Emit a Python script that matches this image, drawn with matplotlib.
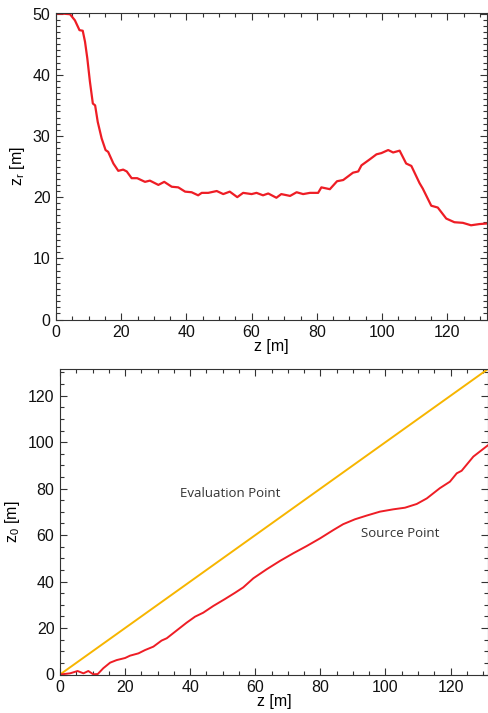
import matplotlib
matplotlib.use("Agg")
import matplotlib.pyplot as plt
from matplotlib.ticker import MultipleLocator

# top panel: z_r(z)
z_top = [0, 2, 4.3, 5.8, 7.2, 8.2, 8.9, 9.6, 10.4, 11.3, 12.0, 12.8, 14.0, 15.2,
         16.0, 17.6, 19.1, 20.6, 21.7, 23.2, 24.9, 27.3, 28.8, 31.4, 33.2, 35.5,
         37.5, 39.6, 41.6, 43.6, 44.7, 46.7, 49.3, 51.3, 53.3, 55.6, 57.4, 60.0,
         61.5, 63.5, 65.1, 67.6, 69.1, 71.8, 73.8, 75.8, 77.9, 80.4, 81.4, 84.0,
         86.2, 88.1, 91.1, 92.7, 93.7, 96.3, 98.3, 99.8, 101.9, 103.4, 105.4,
         107.4, 109.0, 111.5, 112.5, 115.1, 117.1, 119.7, 122.2, 124.8, 127.3,
         129.9, 132.4]
zr = [50.0, 50.0, 49.9, 48.9, 47.3, 47.2, 45.4, 42.7, 38.9, 35.3, 35.0, 32.3,
      29.6, 27.7, 27.4, 25.5, 24.3, 24.5, 24.2, 23.1, 23.1, 22.5, 22.7, 22.0,
      22.5, 21.7, 21.6, 20.9, 20.8, 20.3, 20.7, 20.7, 21.0, 20.5, 20.9, 20.0,
      20.7, 20.5, 20.7, 20.3, 20.6, 19.9, 20.5, 20.2, 20.8, 20.5, 20.7, 20.7,
      21.6, 21.3, 22.6, 22.8, 24.0, 24.2, 25.2, 26.2, 27.0, 27.2, 27.7, 27.3,
      27.6, 25.5, 25.1, 22.3, 21.4, 18.6, 18.3, 16.5, 15.9, 15.8, 15.4, 15.6,
      15.7]

# bottom panel: source point z_0(z) and evaluation point
z_src = [0, 3.1, 5.4, 7.2, 8.7, 10.2, 11.6, 13.3, 15.4, 17.4, 20.0, 21.5, 24.1,
         26.1, 28.7, 31.2, 32.8, 35.8, 38.9, 41.5, 44.0, 47.1, 50.7, 53.8, 56.3,
         59.4, 63.5, 67.6, 71.7, 75.8, 79.9, 84.0, 87.0, 90.6, 94.2, 98.3, 102.4,
         106.0, 109.6, 112.7, 116.7, 119.8, 121.9, 123.4, 127.0, 131.6]
z0_src = [0, 0.5, 1.5, 0.5, 1.5, 0.1, 0.2, 2.7, 5.1, 6.2, 7.1, 8.1, 9.1, 10.5,
          12.0, 14.6, 15.6, 18.9, 22.3, 24.9, 26.6, 29.5, 32.5, 35.2, 37.5, 41.4,
          45.3, 48.9, 52.2, 55.3, 58.6, 62.2, 64.7, 66.8, 68.4, 70.1, 71.1, 71.8,
          73.4, 75.8, 80.2, 83.0, 86.6, 87.7, 93.8, 98.8]
z_eval = [0, 131.5]
z0_eval = [0, 131.5]

RED = "#ee1d25"
GOLD = "#f7b500"
AXC = "#333333"

plt.rcParams["font.family"] = ["Liberation Sans", "DejaVu Sans"]
plt.rcParams["font.size"] = 11.5
plt.rcParams["mathtext.fontset"] = "custom"
plt.rcParams["mathtext.rm"] = "Liberation Sans"


def style_axes(ax, xminor, yminor):
    ax.xaxis.set_major_locator(MultipleLocator(20))
    ax.xaxis.set_minor_locator(MultipleLocator(xminor))
    ax.yaxis.set_minor_locator(MultipleLocator(yminor))
    ax.tick_params(which="both", direction="in", top=True, right=True,
                   color=AXC, width=0.8, labelcolor="#111111")
    ax.tick_params(which="major", length=5, pad=4)
    ax.tick_params(which="minor", length=3)
    for sp in ax.spines.values():
        sp.set_color(AXC)
        sp.set_linewidth(0.8)


fig = plt.figure(figsize=(4.89, 7.13), dpi=100)

ax1 = fig.add_axes([56 / 489, 393.5 / 713, 431 / 489, 306.5 / 713])
ax1.plot(z_top, zr, color=RED, lw=1.6)
ax1.set_xlim(0, 132.2)
ax1.set_ylim(0, 50.1)
ax1.yaxis.set_major_locator(MultipleLocator(10))
style_axes(ax1, 5, 1)
ax1.set_xlabel("z [m]", labelpad=-1)
ax1.set_ylabel(r"z$_\mathrm{r}$ [m]", labelpad=4)

ax2 = fig.add_axes([60 / 489, 38.5 / 713, 428 / 489, 305.5 / 713])
ax2.plot(z_eval, z0_eval, color=GOLD, lw=1.4)
ax2.plot(z_src, z0_src, color=RED, lw=1.4)
ax2.set_xlim(0, 131.5)
ax2.set_ylim(0, 131.5)
ax2.yaxis.set_major_locator(MultipleLocator(20))
style_axes(ax2, 5, 5)
ax2.set_xlabel("z [m]", labelpad=-1)
ax2.set_ylabel(r"z$_\mathrm{0}$ [m]", labelpad=4)

ax2.text(36.9, 78.1, "Evaluation Point", family=["Open Sans", "DejaVu Sans"],
         fontsize=9.5, color="#333333", va="center", ha="left")
ax2.text(92.4, 60.5, "Source Point", family=["Open Sans", "DejaVu Sans"],
         fontsize=9.5, color="#333333", va="center", ha="left")

fig.savefig("out.png", dpi=100)
